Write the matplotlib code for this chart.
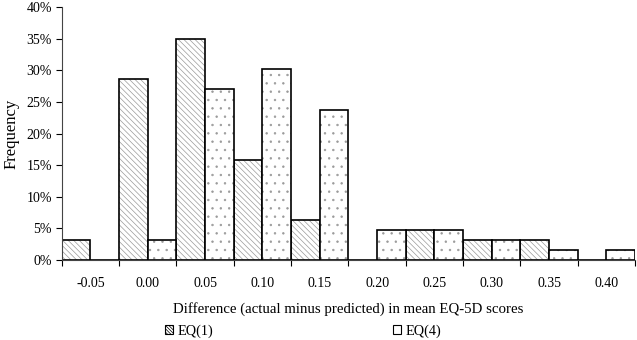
import numpy as np
import matplotlib.pyplot as plt
from matplotlib.patches import Patch

plt.rcParams['font.family'] = ['Liberation Serif', 'DejaVu Serif']
plt.rcParams['font.size'] = 10
plt.rcParams['hatch.linewidth'] = 0.5

categories = ['-0.05', '0.00', '0.05', '0.10', '0.15', '0.20', '0.25', '0.30', '0.35', '0.40']
eq1 = [3.2, 28.6, 34.9, 15.9, 6.3, 0.0, 4.8, 3.2, 3.2, 0.0]
eq4 = [0.0, 3.2, 27.0, 30.2, 23.8, 4.8, 4.8, 3.2, 1.6, 1.6]

fig = plt.figure(figsize=(6.37, 3.40), dpi=100)
ax = fig.add_axes([0.097, 0.235, 0.900, 0.744])

x = np.arange(len(categories))
w = 0.5
hatch_col = '#9a9a9a'

# hatched fill first, then a black outline on top
for vals, off, hatch in [(eq1, -w / 2, '\\\\\\\\\\\\'), (eq4, w / 2, '..')]:
    ax.bar(x + off, vals, width=w, color='white', edgecolor=hatch_col,
           hatch=hatch, linewidth=0)
    ax.bar(x + off, vals, width=w, fill=False, edgecolor='black', linewidth=1.2)

ax.set_xlim(-0.5, len(categories) - 0.5)
ax.set_ylim(0, 40)
ax.set_yticks(np.arange(0, 41, 5))
ax.set_yticklabels([f'{v}%' for v in range(0, 41, 5)])
ax.set_xticks(x)
ax.set_xticklabels(categories)
ax.set_xticks(np.arange(-0.5, len(categories), 1), minor=True)
ax.tick_params(axis='x', which='major', length=0, pad=12)
ax.tick_params(axis='x', which='minor', length=4, width=0.8, direction='out')
ax.tick_params(axis='y', length=4, width=0.8, direction='out', pad=3)

for s in ['top', 'right']:
    ax.spines[s].set_visible(False)
for s in ['left', 'bottom']:
    ax.spines[s].set_linewidth(0.8)
    ax.spines[s].set_color('#444444')

ax.set_ylabel('Frequency', fontsize=12, labelpad=5)
ax.set_xlabel('Difference (actual minus predicted) in mean EQ-5D scores',
              fontsize=10.7, labelpad=9)

handles = [
    Patch(facecolor='white', edgecolor='black', hatch='\\\\\\\\\\\\\\\\\\\\',
          linewidth=0.8, label='EQ(1)'),
    Patch(facecolor='white', edgecolor='black', linewidth=0.8, label='EQ(4)'),
]
fig.legend(handles=handles, ncol=2, loc='center', bbox_to_anchor=(0.476, 0.026),
           frameon=False, columnspacing=12.6, handlelength=0.55, handleheight=0.55,
           handletextpad=0.3, fontsize=10.3)

fig.savefig('out.png', dpi=100)
